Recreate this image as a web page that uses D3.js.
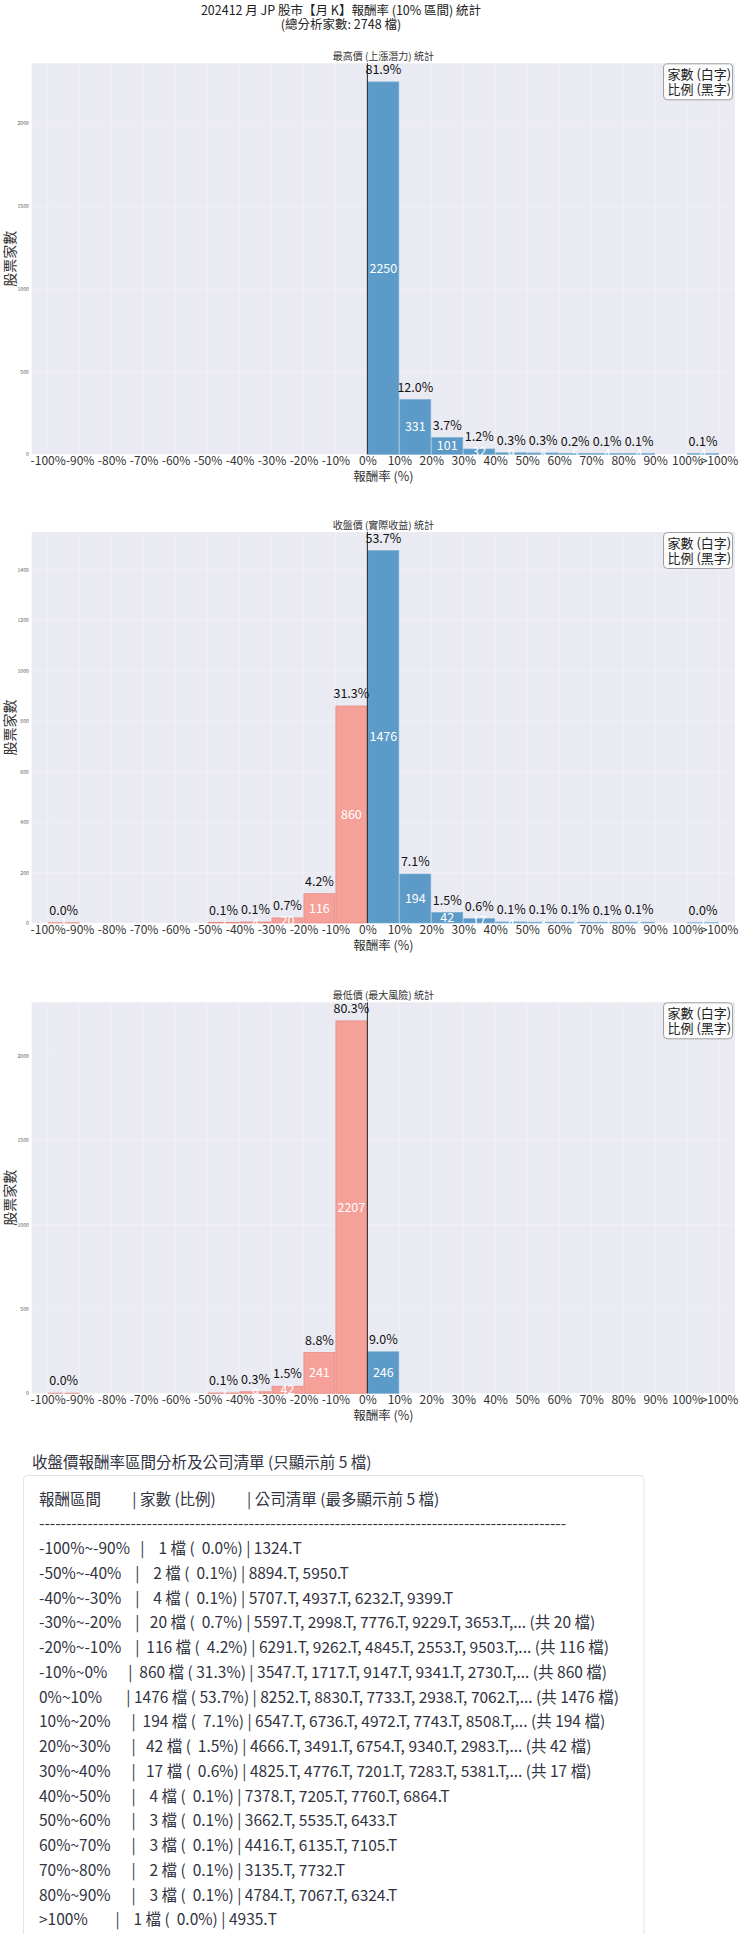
<!DOCTYPE html>
<html>
<head>
<meta charset="utf-8">
<script src="https://cdn.jsdelivr.net/npm/d3@7"></script>
<style>
body { margin: 0; background: #fff; }
svg text { font-family: "Noto Sans CJK TC", "Noto Sans CJK JP", sans-serif; white-space: pre; }
</style>
</head>
<body>
<svg width="740" height="1934"></svg>
<script>
const total = 2748;

const tickLabels = ["-100%", "-90%", "-80%", "-70%", "-60%", "-50%", "-40%", "-30%", "-20%", "-10%",
    "0%", "10%", "20%", "30%", "40%", "50%", "60%", "70%", "80%", "90%", "100%", ">100%"];

const binLabels = ["-100%~-90%", "-90%~-80%", "-80%~-70%", "-70%~-60%", "-60%~-50%", "-50%~-40%",
    "-40%~-30%", "-30%~-20%", "-20%~-10%", "-10%~0%", "0%~10%", "10%~20%", "20%~30%", "30%~40%",
    "40%~50%", "50%~60%", "60%~70%", "70%~80%", "80%~90%", "90%~100%", ">100%"];

const highCounts = [0, 0, 0, 0, 0, 0, 0, 0, 0, 0, 2250, 331, 101, 32, 9, 8, 5, 4, 4, 0, 4];
const closeCounts = [1, 0, 0, 0, 0, 2, 4, 20, 116, 860, 1476, 194, 42, 17, 4, 3, 3, 2, 3, 0, 1];
const lowCounts = [1, 0, 0, 0, 0, 2, 9, 42, 241, 2207, 246, 0, 0, 0, 0, 0, 0, 0, 0, 0, 0];

const highTicks = [0, 500, 1000, 1500, 2000];
const closeTicks = [0, 200, 400, 600, 800, 1000, 1200, 1400];
const lowTicks = [0, 500, 1000, 1500, 2000];

// first (up to 5) tickers of each close-price bin
const closeTickers = [
    ["1324.T"], [], [], [], [],
    ["8894.T", "5950.T"],
    ["5707.T", "4937.T", "6232.T", "9399.T"],
    ["5597.T", "2998.T", "7776.T", "9229.T", "3653.T"],
    ["6291.T", "9262.T", "4845.T", "2553.T", "9503.T"],
    ["3547.T", "1717.T", "9147.T", "9341.T", "2730.T"],
    ["8252.T", "8830.T", "7733.T", "2938.T", "7062.T"],
    ["6547.T", "6736.T", "4972.T", "7743.T", "8508.T"],
    ["4666.T", "3491.T", "6754.T", "9340.T", "2983.T"],
    ["4825.T", "4776.T", "7201.T", "7283.T", "5381.T"],
    ["7378.T", "7205.T", "7760.T", "6864.T"],
    ["3662.T", "5535.T", "6433.T"],
    ["4416.T", "6135.T", "7105.T"],
    ["3135.T", "7732.T"],
    ["4784.T", "7067.T", "6324.T"],
    [],
    ["4935.T"]
];

let bgColor = "#EAEAF2";
let upColor = "#5C9AC7";
let upEdge = "#7AAED4";
let downColor = "#F5A098";
let downEdge = "#E8847C";

const svg = d3.select("svg");
const plotLeft = 31.7, plotRight = 735, plotHeight = 391;

const xScale = d3.scaleLinear()
    .domain([-0.5, 21.5])
    .range([plotLeft, plotRight]);

const drawTitle = () => {
    svg.append("text")
        .attr("x", 341).attr("y", 15)
        .attr("text-anchor", "middle")
        .attr("font-size", 12.5).attr("fill", "#222")
        .text("202412 月 JP 股市【月 K】報酬率 (10% 區間) 統計");
    svg.append("text")
        .attr("x", 341).attr("y", 28.5)
        .attr("text-anchor", "middle")
        .attr("font-size", 12.5).attr("fill", "#222")
        .text(`(總分析家數: ${total} 檔)`);
};

const drawChart = (top, title, counts, ticks) => {
    let bottom = top + plotHeight;
    let yScale = d3.scaleLinear()
        .domain([0, d3.max(counts) * 1.05])
        .range([bottom, top]);
    let g = svg.append("g");

    g.append("rect")
        .attr("x", plotLeft).attr("y", top)
        .attr("width", plotRight - plotLeft).attr("height", plotHeight)
        .attr("fill", bgColor);

    // grid
    g.selectAll(".hgrid").data(ticks).enter().append("line")
        .attr("x1", plotLeft).attr("x2", plotRight)
        .attr("y1", d => yScale(d)).attr("y2", d => yScale(d))
        .attr("stroke", "#fff").attr("stroke-opacity", 0.35).attr("stroke-width", 0.8);
    g.selectAll(".vgrid").data(tickLabels).enter().append("line")
        .attr("x1", (d, i) => xScale(i)).attr("x2", (d, i) => xScale(i))
        .attr("y1", top).attr("y2", bottom)
        .attr("stroke", "#fff").attr("stroke-opacity", 0.35).attr("stroke-width", 0.8);

    // y axis
    let yAxis = d3.axisLeft(yScale).tickValues(ticks)
        .tickFormat(d3.format("d")).tickSize(0).tickPadding(3);
    let ya = g.append("g")
        .attr("transform", `translate(${plotLeft}, 0)`)
        .call(yAxis);
    ya.select(".domain").remove();
    ya.selectAll("text").attr("font-size", 5).attr("fill", "#555")
        .style("font-family", "'Noto Sans CJK TC', sans-serif");

    // x axis
    let xAxis = d3.axisBottom(xScale)
        .tickValues(d3.range(tickLabels.length))
        .tickFormat(i => tickLabels[i])
        .tickSize(0).tickPadding(2);
    let xa = g.append("g")
        .attr("transform", `translate(0, ${bottom})`)
        .call(xAxis);
    xa.select(".domain").remove();
    xa.selectAll("text").attr("font-size", 12).attr("fill", "#333")
        .style("font-family", "'Noto Sans CJK TC', sans-serif");

    // bars
    g.selectAll(".bar").data(counts).enter().append("rect")
        .attr("x", (d, i) => xScale(i + 0.015))
        .attr("width", xScale(0.97) - xScale(0))
        .attr("y", d => yScale(d))
        .attr("height", d => bottom - yScale(d))
        .attr("fill", (d, i) => i < 10 ? downColor : upColor)
        .attr("stroke", (d, i) => i < 10 ? downEdge : upEdge)
        .attr("stroke-width", 0.7);

    // zero line
    g.append("line")
        .attr("x1", xScale(10)).attr("x2", xScale(10))
        .attr("y1", top).attr("y2", bottom)
        .attr("stroke", "#222").attr("stroke-width", 1);

    // labels
    let shown = counts.map((c, i) => ({ c, i })).filter(d => d.c > 0);
    g.selectAll(".cnt").data(shown).enter().append("text")
        .attr("x", d => xScale(d.i + 0.5))
        .attr("y", d => yScale(d.c / 2) + 4.5)
        .attr("text-anchor", "middle")
        .attr("font-size", 12.5).attr("fill", "#fff")
        .text(d => d.c);
    g.selectAll(".pct").data(shown).enter().append("text")
        .attr("x", d => xScale(d.i + 0.5))
        .attr("y", d => yScale(d.c) - 7.8)
        .attr("text-anchor", "middle")
        .attr("font-size", 12.5).attr("fill", "#111")
        .text(d => (d.c / total * 100).toFixed(1) + "%");

    // subtitle and axis titles
    g.append("text")
        .attr("x", (plotLeft + plotRight) / 2).attr("y", top - 3.5)
        .attr("text-anchor", "middle")
        .attr("font-size", 10).attr("fill", "#333")
        .text(title);
    g.append("text")
        .attr("x", (plotLeft + plotRight) / 2).attr("y", bottom + 27)
        .attr("text-anchor", "middle")
        .attr("font-size", 12.5).attr("fill", "#333")
        .text("報酬率 (%)");
    g.append("text")
        .attr("transform", `translate(14.5, ${top + plotHeight / 2}) rotate(-90)`)
        .attr("text-anchor", "middle")
        .attr("font-size", 14).attr("fill", "#333")
        .text("股票家數");

    // note box
    let bx = 663.5, by = top + 0.5;
    g.append("rect")
        .attr("x", bx).attr("y", by).attr("width", 69).attr("height", 36)
        .attr("rx", 4).attr("fill", "#fff").attr("fill-opacity", 0.85)
        .attr("stroke", "#888").attr("stroke-width", 0.8);
    g.append("text").attr("x", bx + 4).attr("y", by + 15.5)
        .attr("font-size", 13).attr("fill", "#222").text("家數 (白字)");
    g.append("text").attr("x", bx + 4).attr("y", by + 30.5)
        .attr("font-size", 13).attr("fill", "#222").text("比例 (黑字)");
};

const padEnd = (s, n) => s + " ".repeat(Math.max(0, n - s.length));
const padStart = (s, n) => " ".repeat(Math.max(0, n - s.length)) + s;

const drawTable = () => {
    let fs = 15.5, lh = 24.75, rowTop = 1548.5, tx = 39;
    svg.append("text")
        .attr("x", 32).attr("y", 1462 + 0.36 * fs)
        .attr("font-size", fs).attr("fill", "#31333F")
        .text("收盤價報酬率區間分析及公司清單 (只顯示前 5 檔)");

    svg.append("rect")
        .attr("x", 23.5).attr("y", 1475.5)
        .attr("width", 620.5).attr("height", 500)
        .attr("rx", 4).attr("fill", "#fff")
        .attr("stroke", "#e3e3e3").attr("stroke-width", 1);

    let rows = closeCounts.map((c, i) => ({ c, i })).filter(d => d.c > 0).map(d => {
        let list = closeTickers[d.i].join(", ");
        if (d.c > 5) list += `,... (共 ${d.c} 檔)`;
        let pct = (d.c / total * 100).toFixed(1);
        return `${padEnd(binLabels[d.i], 12)} | ${padStart(String(d.c), 4)} 檔 (${padStart(pct, 5)}%) | ${list}`;
    });
    let lines = [
        `${padEnd("報酬區間", 12)} | ${padEnd("家數 (比例)", 15)} | 公司清單 (最多顯示前 5 檔)`,
        "-".repeat(98)
    ].concat(rows);

    svg.selectAll(".row").data(lines).enter().append("text")
        .attr("x", tx)
        .attr("y", (d, i) => rowTop + (i - 2) * lh + 0.36 * fs)
        .attr("xml:space", "preserve")
        .attr("font-size", fs).attr("fill", "#31333F")
        .text(d => d);
};

drawTitle();
drawChart(63.3, "最高價 (上漲潛力) 統計", highCounts, highTicks);
drawChart(532, "收盤價 (實際收益) 統計", closeCounts, closeTicks);
drawChart(1002.3, "最低價 (最大風險) 統計", lowCounts, lowTicks);
drawTable();
</script>
</body>
</html>
